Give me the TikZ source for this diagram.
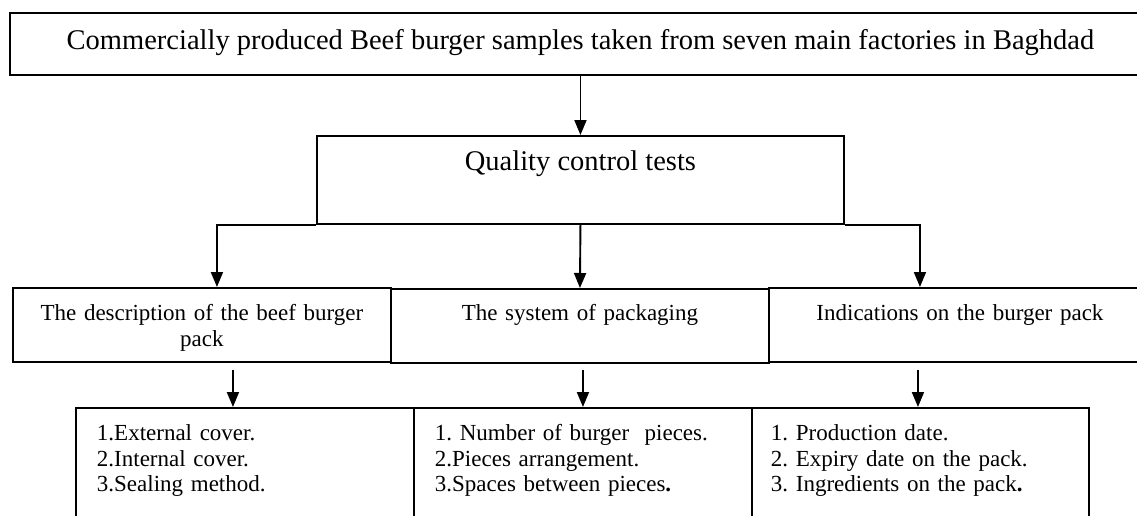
\documentclass[tikz,border=0pt]{standalone}
\usepackage{fontspec}
\setmainfont{Liberation Serif}
\frenchspacing
\usetikzlibrary{arrows.meta,calc}
\tikzset{
	box/.style={draw, line width=1.9pt, inner ysep=0pt, anchor=north west},
	arr/.style={line width=1.9pt, -{Triangle[length=15pt,width=12pt]}},
	big/.style={font=\fontsize{28.5}{30}\selectfont},
	small/.style={font=\fontsize{23}{25.5}\selectfont},
}

\begin{document}
\begin{tikzpicture}[x=1pt,y=-1pt]
		%%%%% START %%%%%
		\clip (0,0) rectangle (1137,515);
		
		\node[box, big, inner xsep=0pt, minimum width=1141pt, text height=37pt, text depth=25pt] (samples) at (9,12) {Commercially produced Beef burger samples taken from seven main factories in Baghdad};
		\node[box, big, inner xsep=0pt, minimum width=527pt, text height=35pt, text depth=53pt] (qc) at (316,135) {Quality control tests};
		
		\node[box, small, inner xsep=4pt, text width=370pt, align=center, text height=33pt, text depth=41pt] (desc) at (12,287) {The description of the beef burger\\pack};
		\node[box, small, inner xsep=4pt, text width=370pt, align=center, text height=32pt, text depth=42pt] (sys) at (390,288) {The system of packaging};
		\node[box, small, inner xsep=4pt, text width=374pt, align=center, text height=33pt, text depth=41pt] (ind) at (768,287) {Indications on the burger pack};
		
		\node[box, small, inner xsep=21pt, text width=296pt, align=left, text height=33pt, text depth=100pt] (covers) at (75,407) {1.External cover.\\2.Internal cover.\\3.Sealing method.};
		\node[box, small, inner xsep=21pt, text width=296pt, align=left, text height=33pt, text depth=100pt] (pieces) at (413,407) {1. Number of burger~ pieces.\\2.Pieces arrangement.\\3.Spaces between pieces\textbf{.}};
		\node[box, small, inner xsep=19pt, text width=299pt, align=left, text height=33pt, text depth=100pt] (dates) at (751,407) {1. Production date.\\2. Expiry date on the pack.\\3. Ingredients on the pack\textbf{.}};
		
		\draw[arr] (samples.south) -- (qc.north);
		
		\draw[arr] (qc.south west) -| ($(desc.north)+(15,0)$);
		\draw[arr] (qc.south) -- (sys.north);
		\draw[arr] (qc.south east) -| ($(ind.north)+(-40,0)$);
		
		\draw[arr] ($(desc.south)+(31,7)$) -- ($(covers.north)+(-12,0)$);
		\draw[arr] ($(sys.south)+(3,6)$) -- (pieces.north);
		\draw[arr] ($(ind.south)+(-42,7)$) -- ($(dates.north)+(-2.5,0)$);
		
		%%%%% END %%%%%
\end{tikzpicture}
\end{document}
